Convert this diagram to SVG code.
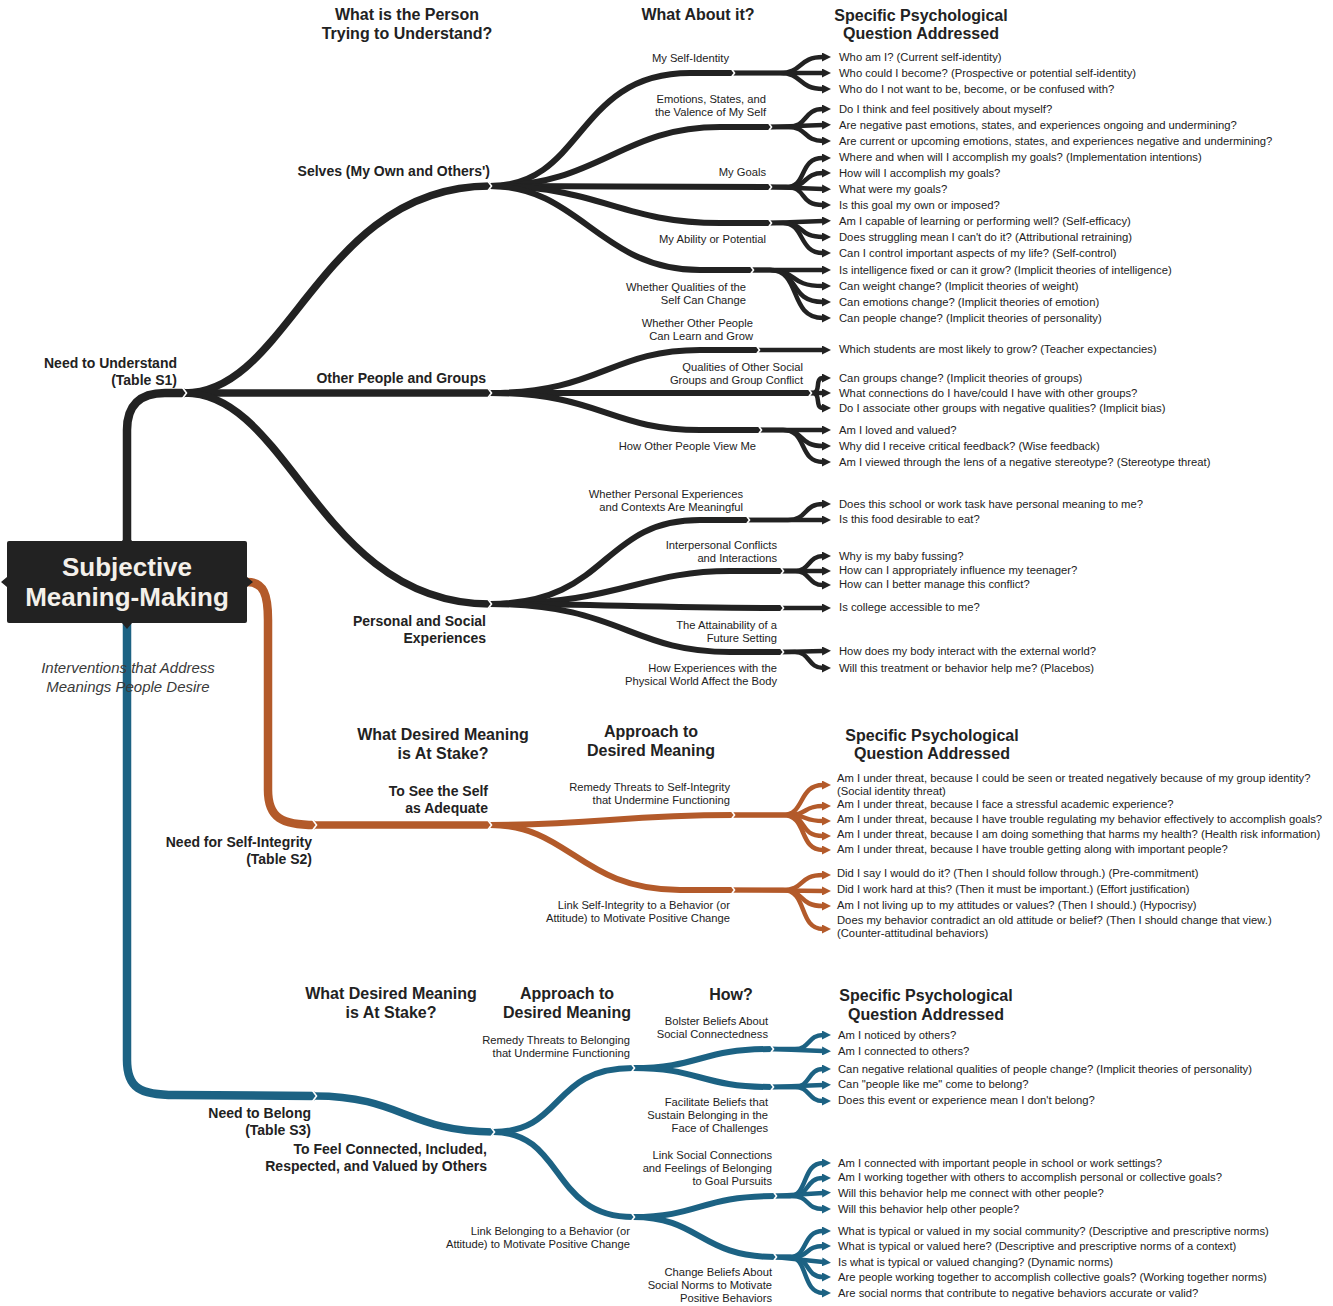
<svg xmlns="http://www.w3.org/2000/svg" xmlns:xlink="http://www.w3.org/1999/xlink" width="1333" height="1306" viewBox="0 0 1333 1306">
<style>
.c{fill:none;stroke-linecap:butt;stroke-linejoin:round}
.k{stroke:#222}
.o{stroke:#b35a2a}
.u{stroke:#1c6283}
.w0{stroke-width:8.5}
.w1{stroke-width:7.5}
.w2{stroke-width:6}
.w3{stroke-width:4.5}
text{font-family:"Liberation Sans",Arial,Helvetica,sans-serif;fill:#222}
.q{font-size:11.25px}
.s{font-size:11.2px;text-anchor:end}
.h{font-size:16px;font-weight:bold;text-anchor:middle}
.l{font-size:14px;font-weight:bold;text-anchor:end}
</style>
<defs>
<marker id="ak" viewBox="0 0 9 9" refX="1" refY="4.5" markerWidth="9" markerHeight="9" markerUnits="userSpaceOnUse" orient="auto"><path d="M0,0 L9,4.5 L0,9 z" fill="#222"/></marker>
<marker id="ao" viewBox="0 0 9 9" refX="1" refY="4.5" markerWidth="9" markerHeight="9" markerUnits="userSpaceOnUse" orient="auto"><path d="M0,0 L9,4.5 L0,9 z" fill="#b35a2a"/></marker>
<marker id="au" viewBox="0 0 9 9" refX="1" refY="4.5" markerWidth="9" markerHeight="9" markerUnits="userSpaceOnUse" orient="auto"><path d="M0,0 L9,4.5 L0,9 z" fill="#1c6283"/></marker>
<path id="n" d="M-3,-6 L1.5,0 L-3,6" fill="none" stroke="#fff" stroke-width="1.6"/>
</defs>
<rect width="1333" height="1306" fill="#fff"/>

<g id="connectors">
<!-- black tree -->
<path class="c k w0" d="M127,541 L127,430 Q127,393 165,393 L185,393"/>
<path class="c k w1" d="M185,393 C290,393 320,186 490,186"/>
<path class="c k w1" d="M185,393 L490,393"/>
<path class="c k w1" d="M185,393 C290,393 320,604 490,604"/>
<path class="c k w2" d="M490,186 C585,186 575,73 690,73 L733,73"/>
<path class="c k w2" d="M490,186 C600,186 620,127 720,127 L770,127"/>
<path class="c k w2" d="M490,186 C600,186 650,187 770,187"/>
<path class="c k w2" d="M490,186 C600,186 620,223 720,223 L770,223"/>
<path class="c k w2" d="M490,186 C580,186 600,270 700,270 L752,270"/>
<path class="c k w2" d="M490,393 C600,393 610,350 700,350 L758,350"/>
<path class="c k w2" d="M490,393 L810,393"/>
<path class="c k w2" d="M490,393 C600,393 610,430 700,430 L760,430"/>
<path class="c k w2" d="M490,604 C610,604 600,520 700,520 L748,520"/>
<path class="c k w2" d="M490,604 C620,604 640,571 730,571 L782,571"/>
<path class="c k w2" d="M490,604 C600,604 650,608 782,608"/>
<path class="c k w2" d="M490,604 C620,604 630,652 730,652 L782,652"/>
<g class="c k w3" marker-end="url(#ak)">
<path d="M733,73 L780,73 C803,73 798,57 823,57"/>
<path d="M733,73 L823,73"/>
<path d="M733,73 L780,73 C803,73 798,89 823,89"/>
<path d="M770,127 L788,127 C808,127 803,109 823,109"/>
<path d="M770,127 L823,125"/>
<path d="M770,127 L788,127 C808,127 803,141 823,141"/>
<path d="M770,187 L786,187 C808,187 798,158 823,158"/>
<path d="M770,187 L788,187 C808,187 803,173 823,173"/>
<path d="M770,187 L823,189"/>
<path d="M770,187 L786,187 C808,187 798,205 823,205"/>
<path d="M770,223 L823,221"/>
<path d="M770,223 L783,223 C805,223 798,237 823,237"/>
<path d="M770,223 L783,223 C805,223 798,253 823,253"/>
<path d="M752,270 L823,270"/>
<path d="M752,270 L770,270 C798,270 788,286 823,286"/>
<path d="M752,270 L770,270 C800,270 788,302 823,302"/>
<path d="M752,270 L770,270 C802,270 788,318 823,318"/>
<path d="M758,350 L823,350"/>
<path d="M810,393 L812,393 C822,393 814,378 823,378"/>
<path d="M810,393 L823,393"/>
<path d="M810,393 L812,393 C822,393 814,408 823,408"/>
<path d="M760,430 L823,430"/>
<path d="M760,430 L783,430 C805,430 798,446 823,446"/>
<path d="M760,430 L783,430 C808,430 798,462 823,462"/>
<path d="M748,520 L788,520 C808,520 803,504 823,504"/>
<path d="M748,520 L823,520"/>
<path d="M782,571 L795,571 C810,571 808,556 823,556"/>
<path d="M782,571 L823,571"/>
<path d="M782,571 L795,571 C810,571 808,585 823,585"/>
<path d="M782,608 L823,608"/>
<path d="M782,652 L823,651"/>
<path d="M782,652 L795,652 C810,652 808,668 823,668"/>
</g>
<!-- orange tree -->
<path class="c o w0" d="M247,582 C264,582 268,595 268,620 L268,790 C268,818 282,825 315,825"/>
<path class="c o w1" d="M315,825 L490,825"/>
<path class="c o w2" d="M490,825 C600,825 620,815 733,815"/>
<path class="c o w2" d="M490,825 C570,825 580,890 680,890 L733,890"/>
<g class="c o w3" marker-end="url(#ao)">
<path d="M733,815 L783,815 C805,815 798,785 823,785"/>
<path d="M733,815 L788,815 C808,815 803,806 823,806"/>
<path d="M733,815 L788,815 C808,815 803,821 823,821"/>
<path d="M733,815 L786,815 C808,815 798,836 823,836"/>
<path d="M733,815 L783,815 C808,815 798,850 823,850"/>
<path d="M733,890 L783,890 C805,890 798,875 823,875"/>
<path d="M733,890 L823,891"/>
<path d="M733,890 L783,890 C805,890 798,906 823,906"/>
<path d="M733,890 L783,890 C808,890 798,929 823,929"/>
</g>
<!-- blue tree -->
<path class="c u w0" d="M127,623 L127,1060 C127,1088 140,1095 175,1095 L315,1096"/>
<path class="c u w1" d="M315,1096 C400,1096 410,1132 493,1132"/>
<path class="c u w2" d="M493,1132 C565,1132 550,1068 633,1068"/>
<path class="c u w2" d="M493,1132 C565,1132 550,1217 633,1217"/>
<path class="c u w2" d="M633,1068 C700,1068 700,1049 772,1049"/>
<path class="c u w2" d="M633,1068 C700,1068 700,1087 772,1087"/>
<path class="c u w2" d="M633,1217 C700,1217 700,1196 775,1196"/>
<path class="c u w2" d="M633,1217 C700,1217 700,1257 775,1257"/>
<g class="c u w3" marker-end="url(#au)">
<path d="M772,1049 L795,1049 C810,1049 808,1035 823,1035"/>
<path d="M772,1049 L823,1051"/>
<path d="M772,1087 L795,1087 C810,1087 808,1069 823,1069"/>
<path d="M772,1087 L823,1085"/>
<path d="M772,1087 L795,1087 C810,1087 808,1101 823,1101"/>
<path d="M775,1196 L790,1196 C808,1196 802,1163 823,1163"/>
<path d="M775,1196 L792,1196 C810,1196 805,1178 823,1178"/>
<path d="M775,1196 L823,1193"/>
<path d="M775,1196 L792,1196 C810,1196 805,1209 823,1209"/>
<path d="M775,1257 L790,1257 C808,1257 802,1231 823,1231"/>
<path d="M775,1257 L792,1257 C810,1257 805,1246 823,1246"/>
<path d="M775,1257 L823,1262"/>
<path d="M775,1257 L792,1257 C810,1257 805,1277 823,1277"/>
<path d="M775,1257 L790,1257 C808,1257 802,1293 823,1293"/>
</g>
<!-- junction notches -->
<use xlink:href="#n" x="185" y="393"/>
<use xlink:href="#n" x="490" y="186"/>
<use xlink:href="#n" x="490" y="393"/>
<use xlink:href="#n" x="490" y="604"/>
<use xlink:href="#n" x="733" y="73"/>
<use xlink:href="#n" x="770" y="127"/>
<use xlink:href="#n" x="770" y="187"/>
<use xlink:href="#n" x="770" y="223"/>
<use xlink:href="#n" x="752" y="270"/>
<use xlink:href="#n" x="758" y="350"/>
<use xlink:href="#n" x="810" y="393"/>
<use xlink:href="#n" x="760" y="430"/>
<use xlink:href="#n" x="748" y="520"/>
<use xlink:href="#n" x="782" y="571"/>
<use xlink:href="#n" x="782" y="608"/>
<use xlink:href="#n" x="782" y="652"/>
<use xlink:href="#n" x="315" y="825"/>
<use xlink:href="#n" x="490" y="825"/>
<use xlink:href="#n" x="733" y="815"/>
<use xlink:href="#n" x="733" y="890"/>
<use xlink:href="#n" x="315" y="1096"/>
<use xlink:href="#n" x="493" y="1132"/>
<use xlink:href="#n" x="633" y="1068"/>
<use xlink:href="#n" x="633" y="1217"/>
<use xlink:href="#n" x="772" y="1049"/>
<use xlink:href="#n" x="772" y="1087"/>
<use xlink:href="#n" x="775" y="1196"/>
<use xlink:href="#n" x="775" y="1257"/>
</g>

<g id="center">
<rect x="7" y="541" width="240" height="82" rx="2" fill="#222"/>
<path d="M122,541 L127,535 L132,541 z M247,577 L253,582 L247,587 z M122,623 L127,629 L132,623 z M7,577 L1,582 L7,587 z" fill="#222"/>
<text x="127" y="576" style="font-size:26px;font-weight:bold;fill:#f4f0ea;text-anchor:middle">Subjective</text>
<text x="127" y="606" style="font-size:26px;font-weight:bold;fill:#f4f0ea;text-anchor:middle">Meaning-Making</text>
</g>
<g id="subtitle">
<text x="128" y="673" style="font-size:15px;font-style:italic;fill:#3a3a3a;text-anchor:middle">Interventions that Address</text>
<text x="128" y="692" style="font-size:15px;font-style:italic;fill:#3a3a3a;text-anchor:middle">Meanings People Desire</text>
</g>

<g id="headers">
<text class="h" x="407" y="20">What is the Person</text>
<text class="h" x="407" y="39">Trying to Understand?</text>
<text class="h" x="698" y="20">What About it?</text>
<text class="h" x="921" y="21">Specific Psychological</text>
<text class="h" x="921" y="39">Question Addressed</text>
<text class="h" x="443" y="740">What Desired Meaning</text>
<text class="h" x="443" y="759">is At Stake?</text>
<text class="h" x="651" y="737">Approach to</text>
<text class="h" x="651" y="756">Desired Meaning</text>
<text class="h" x="932" y="741">Specific Psychological</text>
<text class="h" x="932" y="759">Question Addressed</text>
<text class="h" x="391" y="999">What Desired Meaning</text>
<text class="h" x="391" y="1018">is At Stake?</text>
<text class="h" x="567" y="999">Approach to</text>
<text class="h" x="567" y="1018">Desired Meaning</text>
<text class="h" x="731" y="1000">How?</text>
<text class="h" x="926" y="1001">Specific Psychological</text>
<text class="h" x="926" y="1020">Question Addressed</text>
</g>

<g id="need-understand"><text class="l" x="177" y="368">Need to Understand</text><text class="l" x="177" y="385">(Table S1)</text></g>
<g id="selves"><text class="l" x="490" y="176">Selves (My Own and Others')</text></g>
<g id="other-people"><text class="l" x="486" y="383">Other People and Groups</text></g>
<g id="personal-social"><text class="l" x="486" y="626">Personal and Social</text><text class="l" x="486" y="643">Experiences</text></g>
<g id="need-integrity"><text class="l" x="312" y="847">Need for Self-Integrity</text><text class="l" x="312" y="864">(Table S2)</text></g>
<g id="see-self"><text class="l" x="488" y="796">To See the Self</text><text class="l" x="488" y="813">as Adequate</text></g>
<g id="need-belong"><text class="l" x="311" y="1118">Need to Belong</text><text class="l" x="311" y="1135">(Table S3)</text></g>
<g id="feel-connected"><text class="l" x="487" y="1154">To Feel Connected, Included,</text><text class="l" x="487" y="1171">Respected, and Valued by Others</text></g>

<g id="self-identity"><text class="s" x="729" y="62">My Self-Identity</text></g>
<g id="emotions"><text class="s" x="766" y="103">Emotions, States, and</text><text class="s" x="766" y="116">the Valence of My Self</text></g>
<g id="goals"><text class="s" x="766" y="176">My Goals</text></g>
<g id="ability"><text class="s" x="766" y="243">My Ability or Potential</text></g>
<g id="qualities-self"><text class="s" x="746" y="291">Whether Qualities of the</text><text class="s" x="746" y="304">Self Can Change</text></g>
<g id="others-grow"><text class="s" x="753" y="327">Whether Other People</text><text class="s" x="753" y="340">Can Learn and Grow</text></g>
<g id="groups"><text class="s" x="803" y="371">Qualities of Other Social</text><text class="s" x="803" y="384">Groups and Group Conflict</text></g>
<g id="view-me"><text class="s" x="756" y="450">How Other People View Me</text></g>
<g id="meaningful"><text class="s" x="743" y="498">Whether Personal Experiences</text><text class="s" x="743" y="511">and Contexts Are Meaningful</text></g>
<g id="interpersonal"><text class="s" x="777" y="549">Interpersonal Conflicts</text><text class="s" x="777" y="562">and Interactions</text></g>
<g id="attainability"><text class="s" x="777" y="629">The Attainability of a</text><text class="s" x="777" y="642">Future Setting</text></g>
<g id="physical"><text class="s" x="777" y="672">How Experiences with the</text><text class="s" x="777" y="685">Physical World Affect the Body</text></g>
<g id="remedy-integrity"><text class="s" x="730" y="791">Remedy Threats to Self-Integrity</text><text class="s" x="730" y="804">that Undermine Functioning</text></g>
<g id="link-integrity"><text class="s" x="730" y="909">Link Self-Integrity to a Behavior (or</text><text class="s" x="730" y="922">Attitude) to Motivate Positive Change</text></g>
<g id="remedy-belonging"><text class="s" x="630" y="1044">Remedy Threats to Belonging</text><text class="s" x="630" y="1057">that Undermine Functioning</text></g>
<g id="bolster"><text class="s" x="768" y="1025">Bolster Beliefs About</text><text class="s" x="768" y="1038">Social Connectedness</text></g>
<g id="facilitate"><text class="s" x="768" y="1106">Facilitate Beliefs that</text><text class="s" x="768" y="1119">Sustain Belonging in the</text><text class="s" x="768" y="1132">Face of Challenges</text></g>
<g id="link-social"><text class="s" x="772" y="1159">Link Social Connections</text><text class="s" x="772" y="1172">and Feelings of Belonging</text><text class="s" x="772" y="1185">to Goal Pursuits</text></g>
<g id="link-belonging"><text class="s" x="630" y="1235">Link Belonging to a Behavior (or</text><text class="s" x="630" y="1248">Attitude) to Motivate Positive Change</text></g>
<g id="change-norms"><text class="s" x="772" y="1276">Change Beliefs About</text><text class="s" x="772" y="1289">Social Norms to Motivate</text><text class="s" x="772" y="1302">Positive Behaviors</text></g>

<g id="questions-understand">
<text class="q" x="839" y="61">Who am I? (Current self-identity)</text>
<text class="q" x="839" y="77">Who could I become? (Prospective or potential self-identity)</text>
<text class="q" x="839" y="93">Who do I not want to be, become, or be confused with?</text>
<text class="q" x="839" y="113">Do I think and feel positively about myself?</text>
<text class="q" x="839" y="129">Are negative past emotions, states, and experiences ongoing and undermining?</text>
<text class="q" x="839" y="145">Are current or upcoming emotions, states, and experiences negative and undermining?</text>
<text class="q" x="839" y="161">Where and when will I accomplish my goals? (Implementation intentions)</text>
<text class="q" x="839" y="177">How will I accomplish my goals?</text>
<text class="q" x="839" y="193">What were my goals?</text>
<text class="q" x="839" y="209">Is this goal my own or imposed?</text>
<text class="q" x="839" y="225">Am I capable of learning or performing well? (Self-efficacy)</text>
<text class="q" x="839" y="241">Does struggling mean I can't do it? (Attributional retraining)</text>
<text class="q" x="839" y="257">Can I control important aspects of my life? (Self-control)</text>
<text class="q" x="839" y="274">Is intelligence fixed or can it grow? (Implicit theories of intelligence)</text>
<text class="q" x="839" y="290">Can weight change? (Implicit theories of weight)</text>
<text class="q" x="839" y="306">Can emotions change? (Implicit theories of emotion)</text>
<text class="q" x="839" y="322">Can people change? (Implicit theories of personality)</text>
<text class="q" x="839" y="353">Which students are most likely to grow? (Teacher expectancies)</text>
<text class="q" x="839" y="382">Can groups change? (Implicit theories of groups)</text>
<text class="q" x="839" y="397">What connections do I have/could I have with other groups?</text>
<text class="q" x="839" y="412">Do I associate other groups with negative qualities? (Implicit bias)</text>
<text class="q" x="839" y="434">Am I loved and valued?</text>
<text class="q" x="839" y="450">Why did I receive critical feedback? (Wise feedback)</text>
<text class="q" x="839" y="466">Am I viewed through the lens of a negative stereotype? (Stereotype threat)</text>
<text class="q" x="839" y="508">Does this school or work task have personal meaning to me?</text>
<text class="q" x="839" y="523">Is this food desirable to eat?</text>
<text class="q" x="839" y="560">Why is my baby fussing?</text>
<text class="q" x="839" y="574">How can I appropriately influence my teenager?</text>
<text class="q" x="839" y="588">How can I better manage this conflict?</text>
<text class="q" x="839" y="611">Is college accessible to me?</text>
<text class="q" x="839" y="655">How does my body interact with the external world?</text>
<text class="q" x="839" y="672">Will this treatment or behavior help me? (Placebos)</text>
</g>
<g id="questions-integrity">
<text class="q" x="837" y="782">Am I under threat, because I could be seen or treated negatively because of my group identity?</text>
<text class="q" x="837" y="795">(Social identity threat)</text>
<text class="q" x="837" y="808">Am I under threat, because I face a stressful academic experience?</text>
<text class="q" x="837" y="823">Am I under threat, because I have trouble regulating my behavior effectively to accomplish goals?</text>
<text class="q" x="837" y="838">Am I under threat, because I am doing something that harms my health? (Health risk information)</text>
<text class="q" x="837" y="853">Am I under threat, because I have trouble getting along with important people?</text>
<text class="q" x="837" y="877">Did I say I would do it? (Then I should follow through.) (Pre-commitment)</text>
<text class="q" x="837" y="893">Did I work hard at this? (Then it must be important.) (Effort justification)</text>
<text class="q" x="837" y="909">Am I not living up to my attitudes or values? (Then I should.) (Hypocrisy)</text>
<text class="q" x="837" y="924">Does my behavior contradict an old attitude or belief? (Then I should change that view.)</text>
<text class="q" x="837" y="937">(Counter-attitudinal behaviors)</text>
</g>
<g id="questions-belong">
<text class="q" x="838" y="1039">Am I noticed by others?</text>
<text class="q" x="838" y="1055">Am I connected to others?</text>
<text class="q" x="838" y="1073">Can negative relational qualities of people change? (Implicit theories of personality)</text>
<text class="q" x="838" y="1088">Can "people like me" come to belong?</text>
<text class="q" x="838" y="1104">Does this event or experience mean I don't belong?</text>
<text class="q" x="838" y="1167">Am I connected with important people in school or work settings?</text>
<text class="q" x="838" y="1181">Am I working together with others to accomplish personal or collective goals?</text>
<text class="q" x="838" y="1197">Will this behavior help me connect with other people?</text>
<text class="q" x="838" y="1213">Will this behavior help other people?</text>
<text class="q" x="838" y="1235">What is typical or valued in my social community? (Descriptive and prescriptive norms)</text>
<text class="q" x="838" y="1250">What is typical or valued here? (Descriptive and prescriptive norms of a context)</text>
<text class="q" x="838" y="1266">Is what is typical or valued changing? (Dynamic norms)</text>
<text class="q" x="838" y="1281">Are people working together to accomplish collective goals? (Working together norms)</text>
<text class="q" x="838" y="1297">Are social norms that contribute to negative behaviors accurate or valid?</text>
</g>
</svg>
